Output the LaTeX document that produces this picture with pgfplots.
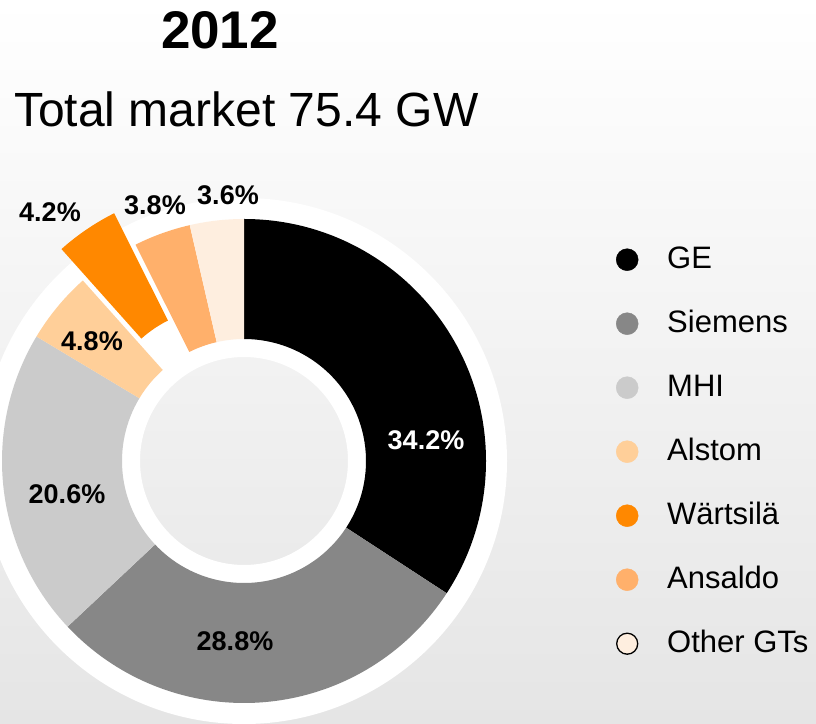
\documentclass[border=0pt]{standalone}
\usepackage{pgfplots}
\pgfplotsset{compat=1.18}
\usepackage{pgfplotstable}
\usepackage{fontspec}
\setmainfont{Liberation Sans}

\definecolor{c0}{RGB}{0,0,0}
\definecolor{c1}{RGB}{135,135,135}
\definecolor{c2}{RGB}{203,203,203}
\definecolor{c3}{RGB}{255,207,153}
\definecolor{c4}{RGB}{255,136,0}
\definecolor{c5}{RGB}{255,176,107}
\definecolor{c6}{RGB}{254,238,223}
\definecolor{bgbot}{RGB}{229,229,229}

% share (%), label position (px, y up), explode offset (px), label colour
\pgfplotstableread{
name     pct  lx   ly   off tc
GE       34.2 426  283  0   white
Siemens  28.8 235  82   0   black
MHI      20.6 67   229  0   black
Alstom   4.8  92   382  0   black
Wartsila 4.2  50   511  38  black
Ansaldo  3.8  155  518  0   black
Other    3.6  228  528  0   black
}\shares

\newcommand\lbfont{\fontsize{27}{27}\selectfont\bfseries}

\begin{document}
\begin{tikzpicture}
\begin{axis}[
  x=1pt, y=1pt,
  xmin=0, xmax=816, ymin=0, ymax=723,
  hide axis,
  enlargelimits=false,
  legend style={at={(axis cs:616,478)}, anchor=north west, draw=none, fill=none,
    inner sep=0pt, font=\fontsize{31}{31}\selectfont, row sep=35pt, column sep=29pt,
    nodes={inner sep=0pt, text height=23pt, text depth=6pt}},
  legend cell align=left,
]
\shade[top color=white, bottom color=bgbot] (axis cs:0,0) rectangle (axis cs:816,723);
\fill[white, even odd rule] (axis cs:244,262) circle[radius=263pt] (axis cs:244,262) circle[radius=104pt];

\gdef\cum{0}
\pgfplotsinvokeforeach{0,...,6}{
  \pgfplotstablegetelem{#1}{pct}\of\shares \let\pct\pgfplotsretval
  \pgfplotstablegetelem{#1}{off}\of\shares \let\off\pgfplotsretval
  \pgfplotstablegetelem{#1}{lx}\of\shares \let\lx\pgfplotsretval
  \pgfplotstablegetelem{#1}{ly}\of\shares \let\ly\pgfplotsretval
  \pgfplotstablegetelem{#1}{tc}\of\shares \let\tc\pgfplotsretval
  \pgfmathsetmacro{\aone}{90-3.6*\cum}
  \pgfmathsetmacro{\tmp}{\cum+\pct}\xdef\cum{\tmp}
  \pgfmathsetmacro{\atwo}{90-3.6*\cum}
  \pgfmathsetmacro{\amid}{(\aone+\atwo)/2}
  \pgfmathsetmacro{\ox}{244+\off*cos(\amid)}
  \pgfmathsetmacro{\oy}{262+\off*sin(\amid)}
  \pgfmathsetmacro{\xa}{\ox+122*cos(\aone)}
  \pgfmathsetmacro{\ya}{\oy+122*sin(\aone)}
  \pgfmathsetmacro{\xb}{\ox+242*cos(\aone)}
  \pgfmathsetmacro{\yb}{\oy+242*sin(\aone)}
  \pgfmathsetmacro{\xc}{\ox+122*cos(\atwo)}
  \pgfmathsetmacro{\yc}{\oy+122*sin(\atwo)}
  \edef\cmd{\noexpand\fill[c#1] (axis cs:\xa,\ya) -- (axis cs:\xb,\yb)
     arc[start angle=\aone, end angle=\atwo, radius=242pt] -- (axis cs:\xc,\yc)
     arc[start angle=\atwo, end angle=\aone, radius=122pt] -- cycle;}
  \cmd
  \edef\cmd{\noexpand\node[text=\tc, font=\noexpand\lbfont, inner sep=0pt] at (axis cs:\lx,\ly) {\pct\noexpand\%};}
  \cmd
}

\node[anchor=base, inner sep=0pt, font=\fontsize{53}{53}\selectfont\bfseries]
  at (axis cs:220,674) {2012};
\node[anchor=base west, inner sep=0pt, font=\fontsize{48}{48}\selectfont]
  at (axis cs:14,596) {Total market 75.4 GW};

\addlegendimage{only marks, mark=*, mark size=11pt, mark options={fill=c0, draw=c0}}
\addlegendentry{GE}
\addlegendimage{only marks, mark=*, mark size=11pt, mark options={fill=c1, draw=c1}}
\addlegendentry{Siemens}
\addlegendimage{only marks, mark=*, mark size=11pt, mark options={fill=c2, draw=c2}}
\addlegendentry{MHI}
\addlegendimage{only marks, mark=*, mark size=11pt, mark options={fill=c3, draw=c3}}
\addlegendentry{Alstom}
\addlegendimage{only marks, mark=*, mark size=11pt, mark options={fill=c4, draw=c4}}
\addlegendentry{Wärtsilä}
\addlegendimage{only marks, mark=*, mark size=11pt, mark options={fill=c5, draw=c5}}
\addlegendentry{Ansaldo}
\addlegendimage{only marks, mark=*, mark size=10.5pt, mark options={fill=c6, draw=black, line width=1.3pt}}
\addlegendentry{Other GTs}
\end{axis}
\pgfresetboundingbox
\path[use as bounding box] (current axis.south west) rectangle (current axis.north east);
\end{tikzpicture}
\end{document}
